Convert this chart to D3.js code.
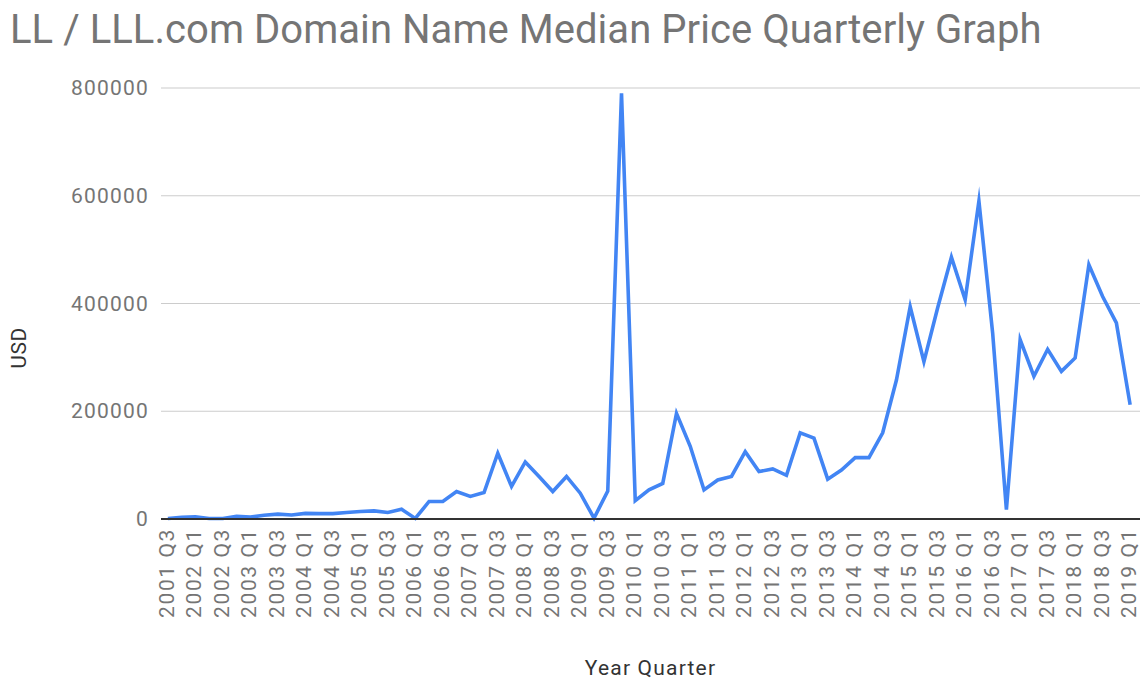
<!DOCTYPE html>
<html>
<head>
<meta charset="utf-8">
<script src="https://cdn.jsdelivr.net/npm/d3@7"></script>
<style>
  html, body { margin: 0; padding: 0; background: #fff; }
  svg { display: block; font-family: Roboto, "Noto Sans", Arial, sans-serif; }
</style>
</head>
<body>
<svg id="chart" width="1142" height="680"></svg>
<script>
// ---- data ----
const quarters = [];
for (let y = 2001, q = 3; y < 2019 || (y === 2019 && q <= 1); ) {
  quarters.push(y + " Q" + q);
  q++; if (q > 4) { q = 1; y++; }
}
const medianPrice = [
  1000, 3000, 4000, 1000, 1000, 5000, 3500, 7000, 9000, 7500,
  10500, 10000, 10000, 12000, 14000, 15000, 12000, 18000, 1000, 32500,
  32500, 51000, 42000, 49000, 122000, 60500, 106000, 79000, 51000, 79000,
  48000, 1500, 52000, 790000, 34000, 54000, 66000, 196000, 135000, 54000,
  72500, 79000, 125000, 88000, 93000, 81000, 160000, 150000, 74000, 91000,
  114000, 114000, 160000, 258000, 394000, 292000, 392000, 486000, 407000, 590000,
  345000, 17600, 333000, 265000, 315000, 274000, 299000, 472000, 413000, 364000,
  212000
];
const yTicks = [0, 200000, 400000, 600000, 800000];
const titleText = "LL / LLL.com Domain Name Median Price Quarterly Graph";
const xTitle = "Year Quarter";
const yTitle = "USD";

// ---- layout ----
const svg = d3.select("#chart");
const plot = { left: 161, right: 1137, top: 88, bottom: 519, gridRight: 1140 };

const x = d3.scaleBand().domain(quarters).range([plot.left, plot.right]);
const y = d3.scaleLinear().domain([0, 800000]).range([plot.bottom, plot.top]);
const cx = d => x(d) + x.bandwidth() / 2;

// title
svg.append("text")
  .attr("x", 10).attr("y", 43)
  .attr("fill", "#757575")
  .attr("font-size", 40)
  .attr("letter-spacing", 0.05)
  .text(titleText);

// gridlines
svg.append("g").selectAll("line").data(yTicks.filter(t => t > 0)).join("line")
  .attr("x1", plot.left).attr("x2", plot.gridRight)
  .attr("y1", d => y(d)).attr("y2", d => y(d))
  .attr("stroke", "#cccccc").attr("stroke-width", 1.2);

// y axis labels
const yAxis = d3.axisLeft(y).tickValues(yTicks).tickSize(0).tickPadding(0).tickFormat(d3.format("d"));
const yg = svg.append("g").attr("transform", `translate(${plot.left - 12},0)`).call(yAxis);
yg.select(".domain").remove();
yg.selectAll("text")
  .attr("fill", "#757575").attr("font-size", 21).attr("letter-spacing", 1.2)
  .attr("font-family", "Roboto, sans-serif");

// x axis labels
const labelQuarters = quarters.filter((q, i) => i % 2 === 0);
const xAxis = d3.axisBottom(x).tickValues(labelQuarters).tickSize(0).tickPadding(0);
const xg = svg.append("g").attr("transform", `translate(0,${plot.bottom})`).call(xAxis);
xg.select(".domain").remove();
xg.selectAll("text")
  .attr("fill", "#757575").attr("font-size", 21).attr("letter-spacing", 1.6)
  .attr("font-family", "Roboto, sans-serif")
  .attr("text-anchor", "end")
  .attr("dy", null)
  .attr("transform", "translate(6,9) rotate(-90)")
  .attr("y", 0).attr("x", 0);

// line
const line = d3.line()
  .x((d, i) => cx(quarters[i]))
  .y(d => y(d));
svg.append("path")
  .datum(medianPrice)
  .attr("d", line)
  .attr("fill", "none")
  .attr("stroke", "#4285f4")
  .attr("stroke-width", 3.6)
  .attr("stroke-linejoin", "miter")
  .attr("stroke-miterlimit", 10);

// baseline
svg.append("line")
  .attr("x1", plot.left).attr("x2", plot.gridRight)
  .attr("y1", y(0)).attr("y2", y(0))
  .attr("stroke", "#333333").attr("stroke-width", 2);

// axis titles
svg.append("text")
  .attr("x", (plot.left + plot.gridRight) / 2).attr("y", 675)
  .attr("text-anchor", "middle")
  .attr("fill", "#333333").attr("font-size", 21).attr("letter-spacing", 1.2)
  .text(xTitle);

svg.append("text")
  .attr("transform", "translate(26,348) rotate(-90)")
  .attr("text-anchor", "middle")
  .attr("fill", "#333333").attr("font-size", 21).attr("letter-spacing", 0.6)
  .text(yTitle);
</script>
</body>
</html>
